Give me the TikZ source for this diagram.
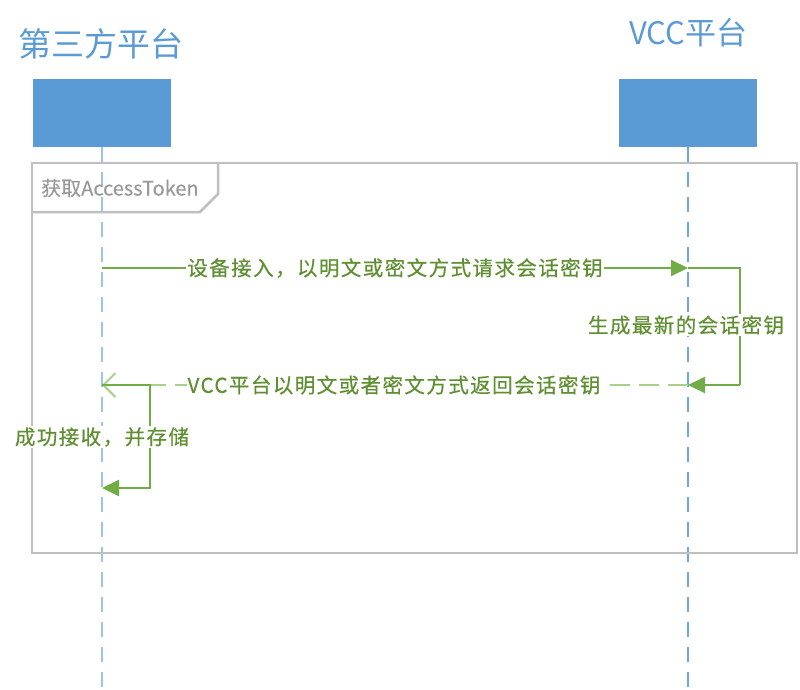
\documentclass[tikz,border=0pt]{standalone}
\usepackage{fontspec}
\setmainfont{Noto Sans CJK SC}
\newfontfamily\cjkmsg[LetterSpace=7,FakeBold=0.4]{Noto Sans CJK SC}
\newfontfamily\cjktab[FakeBold=0.3]{Noto Sans CJK SC}
\usetikzlibrary{arrows.meta}
\definecolor{boxblue}{HTML}{5B9BD5}
\definecolor{lifeL}{HTML}{9DC3E6}
\definecolor{lifeR}{HTML}{6FA8DC}
\definecolor{msggreen}{HTML}{70AD47}
\definecolor{retgreen}{HTML}{A9D18E}
\definecolor{txtgreen}{HTML}{5E8F30}
\definecolor{framegray}{HTML}{BFBFBF}
\definecolor{tabtext}{HTML}{999999}
\tikzset{
  titletext/.style={text=boxblue, font=\fontsize{31}{31}\selectfont, inner sep=0pt},
  lifebox/.style={fill=boxblue, draw=none, minimum width=138pt, minimum height=68pt, inner sep=0pt},
  lifeline/.style={dash pattern=on 15pt off 10pt, line width=2pt},
  frameline/.style={draw=framegray, line width=2.5pt},
  msg/.style={draw=msggreen, line width=2pt, -{Triangle[length=17pt,width=16pt]}},
  retmsg/.style={draw=retgreen, line width=2.8pt, dash pattern=on 20pt off 9pt, -{Straight Barb[length=12pt,width=24pt,line width=2pt]}},
  lbl/.style={fill=white, text=txtgreen, font=\cjkmsg\fontsize{20.5}{20.5}\selectfont, inner sep=1pt},
  tablbl/.style={text=tabtext, font=\cjktab\fontsize{20}{20}\selectfont, inner sep=0pt, anchor=west}
}
\begin{document}
\begin{tikzpicture}[x=1pt, y=-1pt]
\useasboundingbox (0,0) rectangle (800,690);
% titles
\node[titletext, anchor=west, font=\fontsize{33}{33}\selectfont] (t1) at (18,44) {第三方平台};
\node[titletext, anchor=west] (t2) at (629,33) {VCC平台};
% heads
\node[lifebox] (b1) at (102,113) {};
\node[lifebox] (b2) at (688,113) {};
\coordinate (e1) at (102,690);
\coordinate (e2) at (688,690);
\draw[lifeline, draw=lifeL, line width=2.5pt] (b1.south) -- (e1);
\draw[lifeline, draw=lifeR, line width=1.6pt] (b2.south) -- (e2);
% frame
\draw[frameline] (32,163) rectangle (797,553);
\draw[frameline] (32,212) -- (200,212) -- (218,194) -- (218,163);
\node[tablbl] (tab) at (41,188) {获取AccessToken};
% message 1
\coordinate (m1a) at (102,268);
\coordinate (m1b) at (688,268);
\draw[msg] (m1a) -- (m1b);
\node[lbl] (l1) at (395,268) {设备接入，以明文或密文方式请求会话密钥};
% self message at VCC
\coordinate (s1a) at (740,268);
\coordinate (s1b) at (740,385);
\coordinate (m2b) at (688,385);
\draw[msg, -] (m1b) -- (s1a) -- (s1b);
% return message
\coordinate (m2a) at (102,385);
\draw[retmsg] (m2b) -- (m2a);
\draw[msg] (s1b) -- (m2b);
\node[lbl] (l2) at (686,325) {生成最新的会话密钥};
\node[lbl] (l3) at (394,385) {VCC平台以明文或者密文方式返回会话密钥};
% self message at third party
\coordinate (s2a) at (150,385);
\coordinate (s2b) at (150,488);
\coordinate (m3b) at (102,488);
\draw[msg] (m2a) -- (s2a) -- (s2b) -- (m3b);
\node[lbl] (l4) at (102,437) {成功接收，并存储};
\end{tikzpicture}
\end{document}
